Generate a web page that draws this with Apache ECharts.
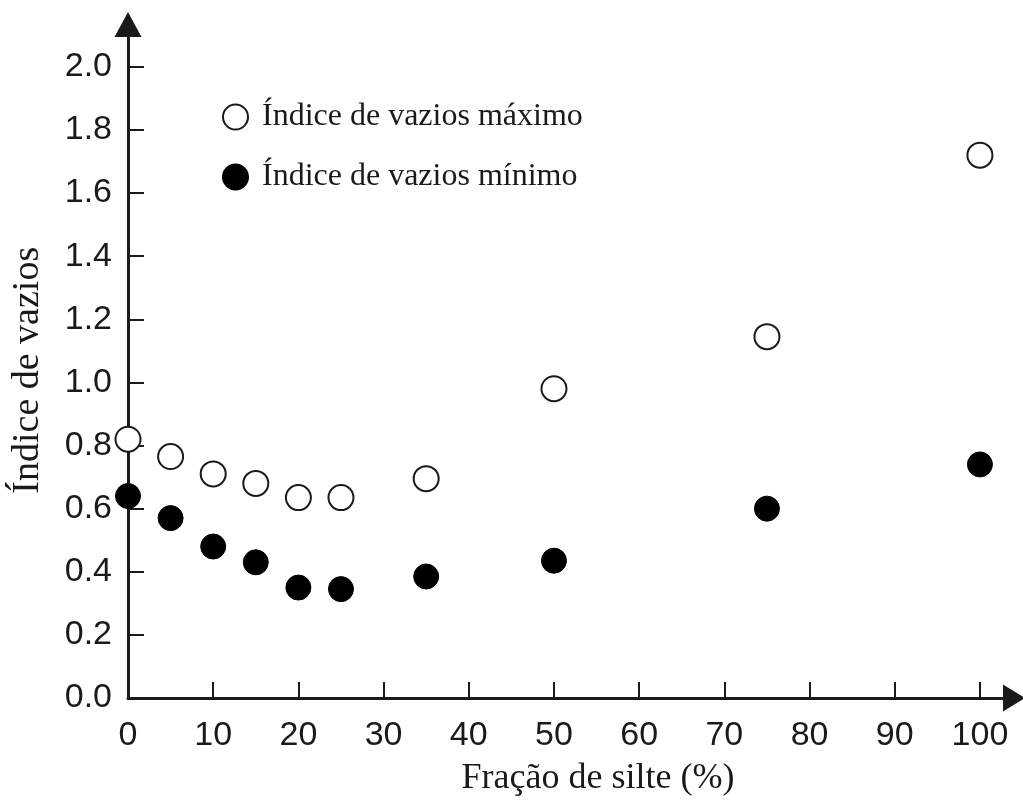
<!DOCTYPE html>
<html>
<head>
<meta charset="utf-8">
<script src="https://cdn.jsdelivr.net/npm/echarts@6/dist/echarts.min.js"></script>
<style>
  html, body { margin: 0; padding: 0; background: #fff; }
  #chart { width: 1023px; height: 802px; }
</style>
</head>
<body>
<div id="chart"></div>
<script>
// fração de silte (%)
var silte = [0, 5, 10, 15, 20, 25, 35, 50, 75, 100];
// índice de vazios máximo / mínimo
var eMax = [0.82, 0.765, 0.71, 0.68, 0.635, 0.635, 0.695, 0.98, 1.145, 1.72];
var eMin = [0.64, 0.57, 0.48, 0.43, 0.35, 0.345, 0.385, 0.435, 0.60, 0.74];
var xTicks = [0, 10, 20, 30, 40, 50, 60, 70, 80, 90, 100];
var yTicks = [0, 0.2, 0.4, 0.6, 0.8, 1.0, 1.2, 1.4, 1.6, 1.8, 2.0];

function pairs(xs, ys) {
    var out = [];
    for (var i = 0; i < xs.length; i++) {
        out.push([xs[i], ys[i]]);
    }
    return out;
}

var chart = echarts.init(document.getElementById('chart'));
var ink = '#1a1a1a';

var option = {
    animation: false,
    grid: { left: 128, right: 9, top: 24.5, bottom: 102 },
    legend: {
        orient: 'vertical',
        left: 217,
        top: 96,
        itemWidth: 25,
        itemHeight: 25,
        itemGap: 28,
        textStyle: {
            fontFamily: 'Liberation Serif',
            fontSize: 32,
            color: ink,
            padding: [0, 0, 0, 9]
        },
        data: ['Índice de vazios máximo', 'Índice de vazios mínimo']
    },
    xAxis: {
        type: 'value',
        min: 0,
        max: 104.0,
        name: 'Fração de silte (%)',
        nameLocation: 'middle',
        nameGap: 63,
        nameTextStyle: {
            fontFamily: 'Liberation Serif',
            fontSize: 36,
            color: ink,
            padding: [0, 0, 0, 54]
        },
        axisLine: {
            lineStyle: { color: ink, width: 3 },
            symbol: ['none', 'triangle'],
            symbolSize: [27, 22]
        },
        axisTick: {
            inside: true,
            length: 16,
            lineStyle: { color: ink, width: 2 },
            customValues: xTicks
        },
        axisLabel: {
            fontFamily: 'Liberation Sans',
            fontSize: 34,
            color: ink,
            margin: 21,
            customValues: xTicks
        },
        splitLine: { show: false }
    },
    yAxis: {
        type: 'value',
        min: 0,
        max: 2.134,
        name: 'Índice de vazios',
        nameLocation: 'middle',
        nameGap: 81,
        nameRotate: 90,
        nameTextStyle: {
            fontFamily: 'Liberation Serif',
            fontSize: 38,
            color: ink,
            padding: [0, 18, 0, 0]
        },
        axisLine: {
            lineStyle: { color: ink, width: 3 },
            symbol: ['none', 'triangle'],
            symbolSize: [27, 25]
        },
        axisTick: {
            inside: true,
            length: 16,
            lineStyle: { color: ink, width: 2 },
            customValues: yTicks
        },
        axisLabel: {
            fontFamily: 'Liberation Sans',
            fontSize: 34,
            color: ink,
            margin: 16,
            customValues: yTicks,
            formatter: function (v) { return v.toFixed(1); }
        },
        splitLine: { show: false }
    },
    series: [
        {
            name: 'Índice de vazios máximo',
            type: 'scatter',
            symbol: 'circle',
            symbolSize: 25,
            itemStyle: { color: '#fff', borderColor: ink, borderWidth: 2, opacity: 1 },
            data: pairs(silte, eMax)
        },
        {
            name: 'Índice de vazios mínimo',
            type: 'scatter',
            symbol: 'circle',
            symbolSize: 25,
            itemStyle: { color: '#000', borderColor: '#000', borderWidth: 1, opacity: 1 },
            data: pairs(silte, eMin)
        }
    ]
};

chart.setOption(option);
</script>
</body>
</html>
